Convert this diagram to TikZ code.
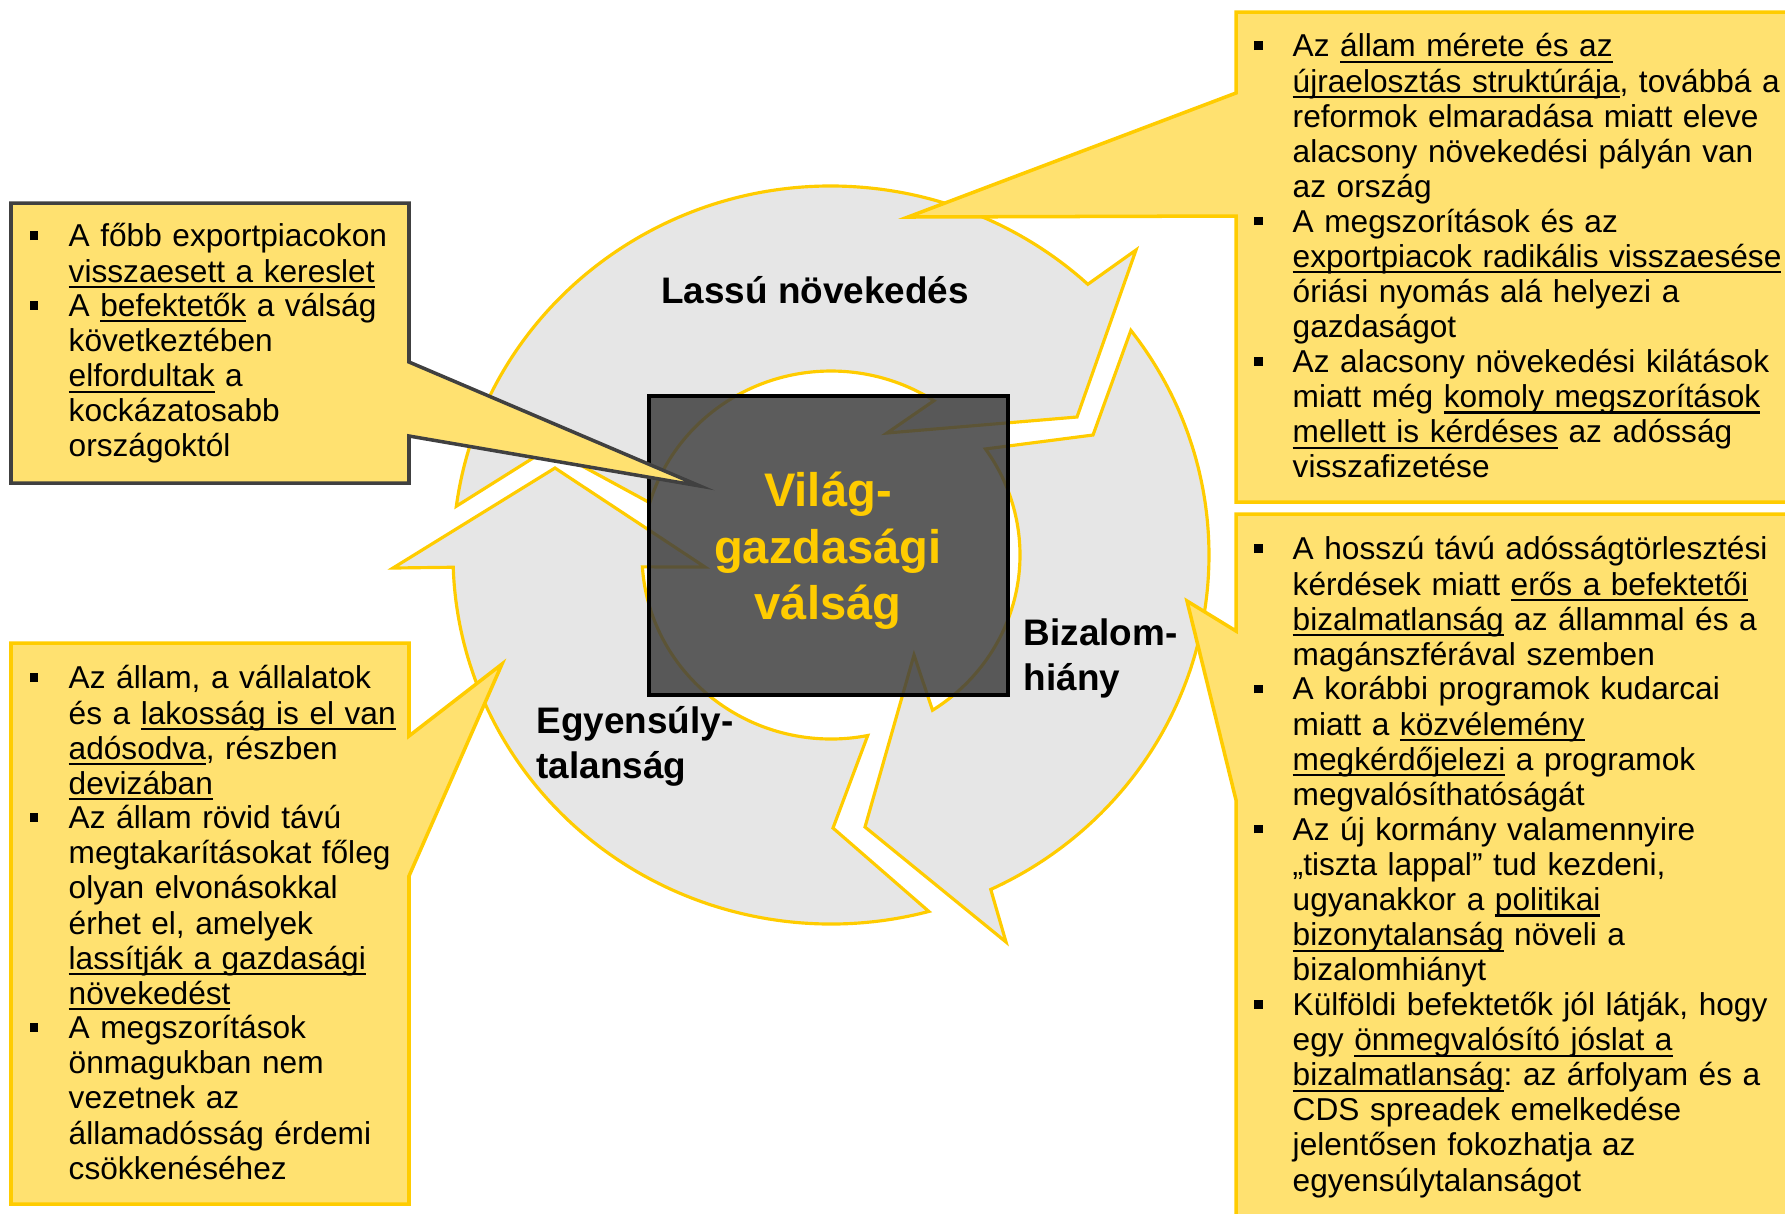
\documentclass[tikz,border=0pt]{standalone}
\usepackage{fontspec}
\setmainfont{Liberation Sans}
\usetikzlibrary{calc}
\frenchspacing

\definecolor{ringgray}{HTML}{E6E6E6}
\definecolor{gold}{HTML}{FFCC00}
\definecolor{noteyellow}{HTML}{FFE170}
\definecolor{notegray}{HTML}{404040}
\definecolor{boxgray}{HTML}{404040}

\newlength{\bulind}
\setlength{\bulind}{11.1pt}
\newcommand{\uln}[1]{\setbox0=\hbox{#1}\rlap{\rule[-1.75pt]{\wd0}{0.6pt}}\box0\relax}
\newcommand{\bul}[1]{\par\noindent\makebox[\bulind][l]{\rule[1.9pt]{2.5pt}{2.5pt}}\parbox[t]{60mm}{\strut#1}}

\begin{document}
\begin{tikzpicture}[x=0.1mm, y=-0.1mm,
    ring/.style={fill=ringgray, draw=gold, line width=0.9pt},
    note/.style={fill=noteyellow, draw=gold, line width=1pt},
    notetext/.style={anchor=north west, inner sep=0pt, text width=66mm, align=left, font=\fontsize{9}{10}\selectfont},
    cyclelabel/.style={inner sep=0pt, font=\bfseries\fontsize{10.5}{12.6}\selectfont}]
    \useasboundingbox (0, 0) rectangle (1785, 1213);
    \coordinate (ctr) at (831, 555);

    \draw [ring] ($(ctr)+(-172.4:378 and 369)$) arc [start angle=-172.4, end angle=-47.2, x radius=378, y radius=369]
      -- (1136, 250) -- (1077, 417) -- (887, 433)
      -- ($(ctr)+(-57:189 and 184)$) arc [start angle=-57, end angle=-163.5, x radius=189, y radius=184]
      -- (549, 448) -- cycle;
    \draw [ring] ($(ctr)+(-37.5:378 and 369)$) arc [start angle=-37.5, end angle=65, x radius=378, y radius=369]
      -- (1006, 942) -- (865, 827) -- (914, 655)
      -- ($(ctr)+(57.5:189 and 184)$) arc [start angle=57.5, end angle=-35.2, x radius=189, y radius=184]
      -- (1093, 435) -- cycle;
    \draw [ring] ($(ctr)+(75:378 and 369)$) arc [start angle=75, end angle=178.1, x radius=378, y radius=369]
      -- (393, 568) -- (555, 468) -- (705, 567)
      -- ($(ctr)+(176.3:189 and 184)$) arc [start angle=176.3, end angle=78.8, x radius=189, y radius=184]
      -- (833, 828) -- cycle;

    \node (crisisbox) at (828.5, 545.5) [draw=black, line width=1pt, fill=boxgray, fill opacity=0.85, minimum width=35.9mm, minimum height=29.9mm, inner sep=0pt] {};
    \node (crisis) at (828, 551) [text=gold, align=center, font=\bfseries\fontsize{13.4}{16.1}\selectfont] {Világ-\\gazdasági\\válság};

    \node (lassu) at (815, 303) [cyclelabel, anchor=base] {Lassú növekedés};
    \node (bizalom) at (1023, 614) [cyclelabel, anchor=north west, align=left] {\strut Bizalom-\\hiány};
    \node (egyensuly) at (536, 702) [cyclelabel, anchor=north west, align=left] {\strut Egyensúly-\\talanság};

    \draw [note, draw=notegray] (11, 203) -- (409, 203) -- (409, 362) -- (700, 486) -- (409, 436) -- (409, 483) -- (11, 483) -- cycle;
    \draw [note] (1236, 12) -- (1800, 12) -- (1800, 502) -- (1236, 502) -- (1236, 216) -- (908, 217) -- (1236, 93) -- cycle;
    \draw [note] (1236, 514) -- (1800, 514) -- (1800, 1230) -- (1236, 1230) -- (1236, 800) -- (1187, 601) -- (1236, 631) -- cycle;
    \draw [note] (11, 643) -- (409, 643) -- (409, 736) -- (502, 664) -- (409, 876) -- (409, 1204) -- (11, 1204) -- cycle;

    \node (export) at (29, 211) [notetext] {%
      \bul{A főbb exportpiacokon\\\uln{visszaesett a kereslet}}
      \bul{A \uln{befektetők} a válság\\következtében\\\uln{elfordultak} a\\kockázatosabb\\országoktól}};
    \node (growth) at (1253, 21) [notetext] {%
      \bul{Az \uln{állam mérete és az}\\\uln{újraelosztás struktúrája}, továbbá a\\reformok elmaradása miatt eleve\\alacsony növekedési pályán van\\az ország}
      \bul{A megszorítások és az\\\uln{exportpiacok radikális visszaesése}\\óriási nyomás alá helyezi a\\gazdaságot}
      \bul{Az alacsony növekedési kilátások\\miatt még \uln{komoly megszorítások}\\\uln{mellett is kérdéses} az adósság\\visszafizetése}};
    \node (trust) at (1253, 524) [notetext] {%
      \bul{A hosszú távú adósságtörlesztési\\kérdések miatt \uln{erős a befektetői}\\\uln{bizalmatlanság} az állammal és a\\magánszférával szemben}
      \bul{A korábbi programok kudarcai\\miatt a \uln{közvélemény}\\\uln{megkérdőjelezi} a programok\\megvalósíthatóságát}
      \bul{Az új kormány valamennyire\\„tiszta lappal” tud kezdeni,\\ugyanakkor a \uln{politikai}\\\uln{bizonytalanság} növeli a\\bizalomhiányt}
      \bul{Külföldi befektetők jól látják, hogy\\egy \uln{önmegvalósító jóslat a}\\\uln{bizalmatlanság}: az árfolyam és a\\CDS spreadek emelkedése\\jelentősen fokozhatja az\\egyensúlytalanságot}};
    \node (debt) at (29, 653) [notetext] {%
      \bul{Az állam, a vállalatok\\és a \uln{lakosság is el van}\\\uln{adósodva}, részben\\\uln{devizában}}
      \bul{Az állam rövid távú\\megtakarításokat főleg\\olyan elvonásokkal\\érhet el, amelyek\\\uln{lassítják a gazdasági}\\\uln{növekedést}}
      \bul{A megszorítások\\önmagukban nem\\vezetnek az\\államadósság érdemi\\csökkenéséhez}};
\end{tikzpicture}
\end{document}
